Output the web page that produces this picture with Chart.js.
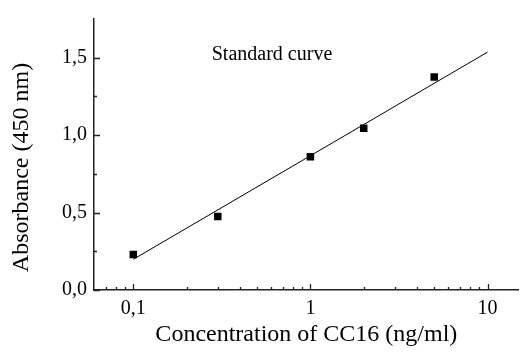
<!DOCTYPE html>
<html>
<head>
<meta charset="utf-8">
<script src="https://cdn.jsdelivr.net/npm/chart.js@4.4.1/dist/chart.umd.min.js"></script>
<style>
  html, body { margin: 0; padding: 0; background: #fff; }
  #wrap { width: 524px; height: 352px; }
</style>
</head>
<body>
<div id="wrap"><canvas id="curve"></canvas></div>
<script>
// measured standards
var concentrations = [0.1, 0.3, 1, 2, 5]
var absorbances = [0.23, 0.475, 0.86, 1.045, 1.375]

// fitted line, read at its two ends
var fitX = [0.1, 10]
var fitY = [0.198, 1.536]

var xMajorTicks = [0.1, 1, 10]
var xMinorTicks = [0.07, 0.08, 0.09, 0.2, 0.3, 0.4, 0.5, 0.6, 0.7, 0.8, 0.9, 2, 3, 4, 5, 6, 7, 8, 9]
var yMajorTicks = [0, 0.5, 1.0, 1.5]
var yMinorTicks = [0.25, 0.75, 1.25]

var serif = 'Liberation Serif, Times New Roman, serif'

function comma(v) {
  return String(v).replace('.', ',')
}

function toPoints(xs, ys) {
  return xs.map(function (x, i) { return { x: x, y: ys[i] } })
}

// inward ticks, longer on majors, plus the inner label and y title
var extras = {
  id: 'extras',
  afterDraw: function (chart) {
    var ctx = chart.ctx
    var area = chart.chartArea
    var xs = chart.scales.x
    var ys = chart.scales.y
    ctx.save()
    ctx.strokeStyle = '#222'
    ctx.lineWidth = 1.3
    ctx.beginPath()
    xMajorTicks.forEach(function (v) {
      var px = Math.round(xs.getPixelForValue(v)) + 0.5
      ctx.moveTo(px, area.bottom); ctx.lineTo(px, area.bottom - 6)
    })
    xMinorTicks.forEach(function (v) {
      var px = Math.round(xs.getPixelForValue(v)) + 0.5
      ctx.moveTo(px, area.bottom); ctx.lineTo(px, area.bottom - 3)
    })
    yMajorTicks.forEach(function (v) {
      var py = Math.round(ys.getPixelForValue(v)) + 0.5
      ctx.moveTo(area.left, py); ctx.lineTo(area.left + 6, py)
    })
    yMinorTicks.forEach(function (v) {
      var py = Math.round(ys.getPixelForValue(v)) + 0.5
      ctx.moveTo(area.left, py); ctx.lineTo(area.left + 3, py)
    })
    ctx.stroke()

    ctx.fillStyle = '#000'
    ctx.font = '20px ' + serif
    ctx.textAlign = 'center'
    ctx.textBaseline = 'alphabetic'
    ctx.fillText('Standard curve', area.left + 178, area.top + 41)

    ctx.font = '24px ' + serif
    ctx.textBaseline = 'middle'
    ctx.translate(22, (area.top + area.bottom) / 2 + 13)
    ctx.rotate(-Math.PI / 2)
    ctx.fillText('Absorbance (450 nm)', 0, 0)
    ctx.restore()
  }
}

var chart = new Chart(document.getElementById('curve').getContext('2d'), {
  type: 'scatter',
  data: {
    datasets: [{
      label: 'fit',
      data: toPoints(fitX, fitY),
      showLine: true,
      borderColor: '#000',
      borderWidth: 1,
      pointRadius: 0
    }, {
      label: 'standards',
      data: toPoints(concentrations, absorbances),
      pointStyle: 'rect',
      pointRadius: 5.3,
      pointBorderWidth: 0,
      backgroundColor: '#000',
      borderColor: '#000'
    }]
  },
  options: {
    responsive: true,
    maintainAspectRatio: false,
    animation: false,
    layout: { padding: { top: 15, right: 1, left: 0, bottom: 0 } },
    plugins: {
      legend: { display: false },
      tooltip: { enabled: false }
    },
    scales: {
      x: {
        type: 'logarithmic',
        min: 0.06,
        max: 15,
        grid: { display: false, drawTicks: false },
        border: { display: true, color: '#222', width: 1.5 },
        afterBuildTicks: function (scale) {
          scale.ticks = xMajorTicks.map(function (v) { return { value: v } })
        },
        afterFit: function (scale) { scale.height = 62 },
        ticks: {
          color: '#000',
          font: { family: serif, size: 20 },
          padding: 7,
          maxRotation: 0,
          autoSkip: false,
          callback: function (v) { return comma(v) }
        },
        title: {
          display: true,
          text: 'Concentration of CC16 (ng/ml)',
          color: '#000',
          font: { family: serif, size: 24 },
          padding: { top: 0, bottom: 3 }
        }
      },
      y: {
        min: 0,
        max: 1.75,
        grid: { display: false, drawTicks: false },
        border: { display: true, color: '#222', width: 1.5 },
        afterBuildTicks: function (scale) {
          scale.ticks = yMajorTicks.map(function (v) { return { value: v } })
        },
        afterFit: function (scale) { scale.width = 94 },
        ticks: {
          color: '#000',
          font: { family: serif, size: 20 },
          padding: 7,
          callback: function (v) { return comma(v.toFixed(1)) }
        }
      }
    }
  },
  plugins: [extras]
})
</script>
</body>
</html>
